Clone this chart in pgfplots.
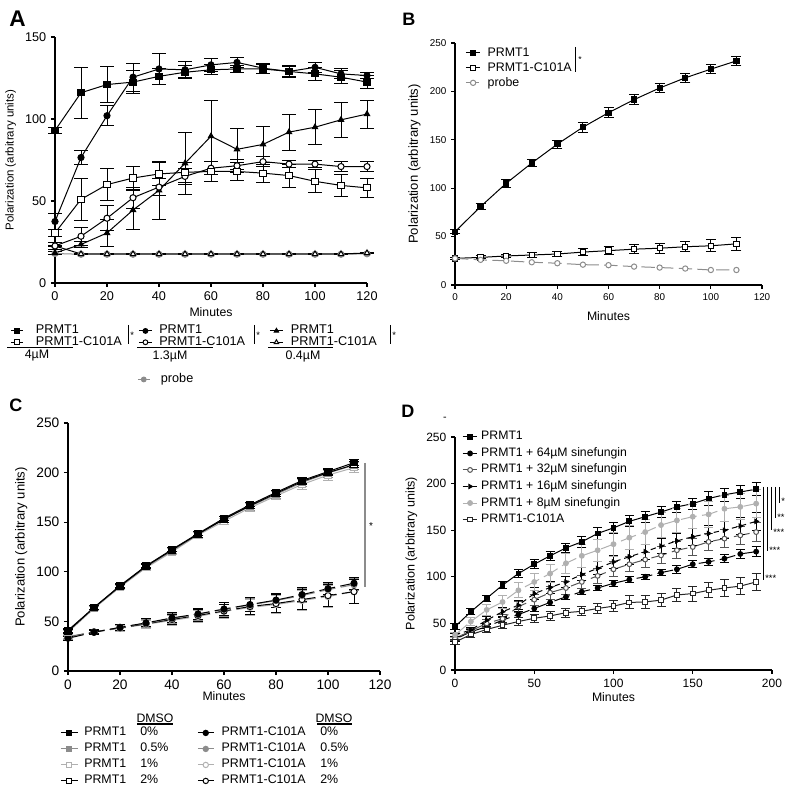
\documentclass[border=0pt]{standalone}
\usepackage{fontspec}
\setmainfont{Liberation Sans}
\usepackage{pgfplots}
\pgfplotsset{compat=1.18}
\definecolor{gA}{HTML}{8C8C8C}
\definecolor{gB}{HTML}{B0B0B0}
\definecolor{gC}{HTML}{555555}
\newcommand{\fs}[1]{\fontsize{#1}{#1}\selectfont}
\pgfplotsset{
  legw/.initial=9pt,
  limg/.style={legend image code/.code={\draw[mark repeat=2,mark phase=2,##1] plot coordinates {(0pt,0pt) (0.5*\pgfkeysvalueof{/pgfplots/legw},0pt) (\pgfkeysvalueof{/pgfplots/legw},0pt)};}},
  panel/.style={
    scale only axis, axis lines=left, axis line style={-, line width=0.8pt},
    tick align=outside, major tick length=3pt,
    tick style={line width=0.8pt, black},
    /pgf/number format/assume math mode=true,
    every axis plot/.append style={line width=0.75pt},
    limg, legend cell align=left, clip=false,
    xlabel={Minutes}, ylabel={Polarization (arbitrary units)},
  },
  eb/.style={error bars/.cd, y dir=both, y explicit,
    error bar style={line width=0.75pt, solid},
    error mark options={rotate=90, mark size=#1, line width=0.75pt, solid}},
  eb/.default=3pt,
  legendonly/.style={hide axis, scale only axis, width=1pt, height=1pt,
    xmin=0, xmax=1, ymin=0, ymax=1, anchor=north west, limg,
    legend cell align=left},
  fsq/.style={mark=square*, mark options={solid, fill=#1, draw=#1}},
  fsq/.default=black,
  osq/.style={mark=square*, mark options={solid, fill=white, draw=#1}},
  osq/.default=black,
  fci/.style={mark=*, mark options={solid, fill=#1, draw=#1}},
  fci/.default=black,
  oci/.style={mark=*, mark options={solid, fill=white, draw=#1}},
  oci/.default=black,
  ftr/.style={mark=triangle*, mark options={solid, fill=#1, draw=#1}},
  ftr/.default=black,
  otr/.style={mark=triangle*, mark options={solid, fill=white, draw=#1}},
  otr/.default=black,
  arr/.style={mark=triangle*, mark options={solid, rotate=-90, fill=#1, draw=#1}},
  arr/.default=black,
}
\begin{document}
\begin{tikzpicture}
\useasboundingbox (0pt,0pt) rectangle (600pt,597.75pt);
% ================= Panel A =================
\begin{axis}[panel, at={(41.25pt,385.5pt)}, anchor=origin,
  width=234pt, height=184.5pt, xmin=0, xmax=120, ymin=0, ymax=150,
  xtick={0,20,...,120}, ytick={0,50,100,150},
  tick label style={font=\fs{9.5}},
  xlabel style={font=\fs{9.2}, yshift=2pt}, ylabel style={font=\fs{8.6}},
  mark size=2.3pt]
\addplot[gA, fci=gA] coordinates {(0,18) (10,17.5) (20,17.5) (30,17.5) (40,17.5) (50,17.5) (60,17.5) (70,17.5) (80,17.5) (90,17.5) (100,17.5) (110,17.5) (120,17.8)};
\addplot[black, otr, eb=5pt] coordinates {(0,22.6) +- (0,0.5) (10,17.7) +- (0,0.5) (20,17.7) +- (0,0.5) (30,17.7) +- (0,0.5) (40,17.7) +- (0,0.5) (50,17.7) +- (0,0.5) (60,17.7) +- (0,0.5) (70,17.7) +- (0,0.5) (80,17.7) +- (0,0.5) (90,17.7) +- (0,0.5) (100,17.7) +- (0,0.5) (110,17.7) +- (0,0.5) (120,18.3) +- (0,0.5)};
\addplot[black, ftr, eb=5pt] coordinates {(0,18.3) +- (0,1) (10,23.5) +- (0,2) (20,30.5) +- (0,8) (30,44.5) +- (0,12) (40,56.5) +- (0,17.5) (50,73) +- (0,19) (60,89.5) +- (0,21.5) (70,81.5) +- (0,12.5) (80,84.5) +- (0,11) (90,92) +- (0,11) (100,95) +- (0,10.5) (110,99.5) +- (0,10.5) (120,103) +- (0,8.5)};
\addplot[black, oci, eb=5pt] coordinates {(0,22.6) +- (0,2) (10,28.5) +- (0,5.5) (20,39.5) +- (0,7.5) (30,52) +- (0,6.5) (40,58.5) +- (0,5) (50,65) +- (0,5) (60,70) +- (0,4) (70,71.5) +- (0,4) (80,74) +- (0,3) (90,72.5) +- (0,2) (100,72.5) +- (0,2) (110,71) +- (0,3) (120,71) +- (0,3)};
\addplot[black, osq, eb=5pt] coordinates {(0,30.5) +- (0,2) (10,51) +- (0,13) (20,60) +- (0,10) (30,64) +- (0,7) (40,66.5) +- (0,7) (50,67.5) +- (0,6) (60,68) +- (0,6) (70,68) +- (0,5.5) (80,67) +- (0,5.5) (90,65.5) +- (0,7) (100,62) +- (0,7) (110,59.5) +- (0,6.5) (120,58) +- (0,6)};
\addplot[black, fci, eb=5pt] coordinates {(0,37.5) +- (0,5) (10,76.5) +- (0,4) (20,102) +- (0,6) (30,125.5) +- (0,8.5) (40,130.5) +- (0,9.5) (50,130) +- (0,5) (60,133) +- (0,4) (70,134.5) +- (0,3) (80,131) +- (0,3) (90,129) +- (0,3.5) (100,131.5) +- (0,3) (110,127.5) +- (0,3) (120,126.5) +- (0,2)};
\addplot[black, fsq, eb=5pt] coordinates {(0,93) +- (0,2) (10,116) +- (0,15.5) (20,121) +- (0,11) (30,122.5) +- (0,7) (40,126) +- (0,5) (50,128.5) +- (0,4) (60,130) +- (0,3) (70,130.5) +- (0,2) (80,130.5) +- (0,3) (90,129) +- (0,3) (100,127.5) +- (0,4) (110,125.5) +- (0,4) (120,122.5) +- (0,4)};
\end{axis}
% legends A
\begin{axis}[legendonly, at={(7.5pt,354pt)}, legw=9pt, mark size=1.8pt,
  legend style={at={(0,1)}, anchor=north west, draw=none, fill=none, inner sep=0pt,
  font=\fs{9.5}, column sep=0pt, row sep=0pt, nodes={inner sep=0.5pt, text height=6pt, text depth=1.5pt}}]
\addlegendimage{black, line width=0.75pt, fsq}\addlegendentry{\hspace*{9pt}PRMT1}
\addlegendimage{black, line width=0.75pt, osq}\addlegendentry{\hspace*{9pt}PRMT1-C101A}
\end{axis}
\begin{axis}[legendonly, at={(103.5pt,354pt)}, legw=10pt, mark size=1.8pt,
  legend style={at={(0,1)}, anchor=north west, draw=none, fill=none, inner sep=0pt,
  font=\fs{9.5}, column sep=0pt, row sep=0pt, nodes={inner sep=0.5pt, text height=6pt, text depth=1.5pt}}]
\addlegendimage{black, line width=0.75pt, fci}\addlegendentry{\hspace*{4.5pt}PRMT1}
\addlegendimage{black, line width=0.75pt, oci}\addlegendentry{\hspace*{4.5pt}PRMT1-C101A}
\end{axis}
\begin{axis}[legendonly, at={(201.75pt,354pt)}, legw=10pt, mark size=1.9pt,
  legend style={at={(0,1)}, anchor=north west, draw=none, fill=none, inner sep=0pt,
  font=\fs{9.5}, column sep=0pt, row sep=0pt, nodes={inner sep=0.5pt, text height=6pt, text depth=1.5pt}}]
\addlegendimage{black, line width=0.75pt, ftr}\addlegendentry{\hspace*{5pt}PRMT1}
\addlegendimage{black, line width=0.75pt, otr}\addlegendentry{\hspace*{5pt}PRMT1-C101A}
\end{axis}
\begin{axis}[legendonly, at={(102.75pt,317.6pt)}, legw=9pt, mark size=1.8pt,
  legend style={at={(0,1)}, anchor=north west, draw=none, fill=none, inner sep=0pt,
  font=\fs{9.5}, column sep=0pt, row sep=0pt, nodes={inner sep=0.5pt, text height=6pt, text depth=1.5pt}}]
\addlegendimage{gA, line width=0.75pt, fci=gA}\addlegendentry{\hspace*{7.5pt}probe}
\end{axis}
% ================= Panel B =================
\begin{axis}[panel, at={(341.25pt,384pt)}, anchor=origin,
  width=230.25pt, height=181.5pt, xmin=0, xmax=120, ymin=0, ymax=250,
  xtick={0,20,...,120}, ytick={0,50,...,250},
  tick label style={font=\fs{7.4}},
  xlabel style={font=\fs{9.2}, yshift=-1pt}, ylabel style={font=\fs{9.8}},
  mark size=2pt, legw=11pt,
  legend style={at={(0.0326,0.988)}, anchor=north west, draw=none, fill=none, inner sep=0pt,
  font=\fs{9.3}, column sep=4.5pt, row sep=1.25pt, nodes={inner sep=0.5pt, text height=7pt, text depth=2pt}}]
\addplot[black, fsq, eb=3.75pt] coordinates {(0,55) +- (0,2) (10,81) +- (0,3) (20,105) +- (0,4) (30,126) +- (0,4) (40,145.5) +- (0,4) (50,163) +- (0,5) (60,178) +- (0,5) (70,191.5) +- (0,5) (80,203.5) +- (0,5) (90,214) +- (0,5) (100,223) +- (0,5) (110,231.5) +- (0,5)};
\addlegendentry{PRMT1}
\addplot[black, osq, eb=3.75pt] coordinates {(0,27.5) +- (0,1) (10,28.5) +- (0,1.5) (20,30) +- (0,2) (30,31) +- (0,3) (40,32) +- (0,3) (50,34) +- (0,4) (60,35.5) +- (0,4) (70,37) +- (0,4.5) (80,38) +- (0,5) (90,39.5) +- (0,5) (100,40.5) +- (0,6) (110,42.5) +- (0,7)};
\addlegendentry{PRMT1-C101A}
\addplot[gA, oci=gA, dash pattern=on 10pt off 4pt] coordinates {(0,27.5) (10,26) (20,25) (30,23.5) (40,22.5) (50,21) (60,20.5) (70,19) (80,18) (90,17) (100,15.5) (110,15.5)};
\addlegendentry{probe}
\end{axis}
% ================= Panel C =================
\begin{axis}[panel, at={(51pt,94.5pt)}, anchor=origin,
  width=234pt, height=186pt, xmin=0, xmax=120, ymin=0, ymax=250,
  xtick={0,20,...,120}, ytick={0,50,...,250},
  tick label style={font=\fs{10.3}},
  xlabel style={font=\fs{9.2}, yshift=5pt}, ylabel style={font=\fs{9.8}},
  mark size=2.3pt]
\addplot[gB, oci=gB, dash pattern=on 12pt off 4pt, eb=3.75pt] coordinates {(0,35) +- (0,2) (10,39) +- (0,2) (20,43) +- (0,3) (30,47) +- (0,4) (40,51) +- (0,5) (50,55) +- (0,6) (60,60) +- (0,7) (70,64) +- (0,8) (80,67) +- (0,9) (90,71) +- (0,10) (100,75) +- (0,11) (110,80) +- (0,12)};
\addplot[black, oci, dash pattern=on 12pt off 4pt, eb=3.75pt] coordinates {(0,34) +- (0,2) (10,39.5) +- (0,2) (20,43.5) +- (0,3) (30,47.5) +- (0,4) (40,52) +- (0,5) (50,56) +- (0,6) (60,60.5) +- (0,7) (70,65) +- (0,8) (80,68) +- (0,9) (90,72) +- (0,10) (100,76) +- (0,11) (110,80) +- (0,12)};
\addplot[gA, fci=gA, dash pattern=on 12pt off 4pt, eb=3.75pt] coordinates {(0,34) +- (0,2) (10,39) +- (0,2) (20,44) +- (0,3) (30,48) +- (0,4) (40,53) +- (0,5) (50,57) +- (0,6) (60,62) +- (0,7) (70,66.5) +- (0,7) (80,71) +- (0,7) (90,76) +- (0,7) (100,82) +- (0,6) (110,87) +- (0,6)};
\addplot[black, fci, dash pattern=on 12pt off 4pt, eb=3.75pt] coordinates {(0,33) +- (0,2) (10,39) +- (0,2) (20,44) +- (0,3) (30,48.5) +- (0,4) (40,53.5) +- (0,5) (50,57.5) +- (0,6) (60,62.5) +- (0,7) (70,67) +- (0,7) (80,71.5) +- (0,7) (90,77) +- (0,7) (100,83) +- (0,6) (110,88.5) +- (0,6)};
\addplot[gB, osq=gB, eb=3.75pt] coordinates {(0,39) +- (0,2) (10,63) +- (0,2) (20,84.5) +- (0,2) (30,104) +- (0,3) (40,120) +- (0,3) (50,137) +- (0,3) (60,151) +- (0,3) (70,164.5) +- (0,4) (80,176.5) +- (0,4) (90,188) +- (0,5) (100,197.5) +- (0,5) (110,205) +- (0,5)};
\addplot[gA, fsq=gA, eb=3.75pt] coordinates {(0,40) +- (0,2) (10,63.5) +- (0,2) (20,85) +- (0,2) (30,105) +- (0,3) (40,121) +- (0,3) (50,137.5) +- (0,3) (60,153) +- (0,3) (70,166) +- (0,4) (80,178) +- (0,4) (90,190) +- (0,4) (100,199.5) +- (0,4) (110,207.5) +- (0,4)};
\addplot[black, osq, eb=3.75pt] coordinates {(0,40) +- (0,2) (10,64) +- (0,2) (20,85.5) +- (0,2) (30,105.5) +- (0,2) (40,122) +- (0,2) (50,138) +- (0,3) (60,153) +- (0,3) (70,166.5) +- (0,3) (80,179) +- (0,3) (90,191) +- (0,3) (100,200) +- (0,3) (110,208) +- (0,3)};
\addplot[black, fsq, eb=3.75pt] coordinates {(0,41) +- (0,2) (10,64) +- (0,2) (20,86) +- (0,2) (30,106) +- (0,2) (40,122.5) +- (0,2) (50,138.5) +- (0,2) (60,154) +- (0,2) (70,167.5) +- (0,2) (80,180) +- (0,2) (90,192) +- (0,3) (100,201) +- (0,3) (110,210) +- (0,3)};
\end{axis}
% legends C
\begin{axis}[legendonly, at={(45pt,52.5pt)}, legw=12.75pt, mark size=2pt,
  legend style={at={(0,1)}, anchor=north west, draw=none, fill=none, inner sep=0pt,
  font=\fs{9.3}, column sep=0pt, row sep=3.5pt, nodes={inner sep=0.5pt, text height=6pt, text depth=1.5pt}}]
\addlegendimage{black, line width=0.75pt, fsq}\addlegendentry{\hspace*{4pt}\makebox[42pt][l]{PRMT1}0\%}
\addlegendimage{gA, line width=0.75pt, fsq=gA}\addlegendentry{\hspace*{4pt}\makebox[42pt][l]{PRMT1}0.5\%}
\addlegendimage{gB, line width=0.75pt, osq=gB}\addlegendentry{\hspace*{4pt}\makebox[42pt][l]{PRMT1}1\%}
\addlegendimage{black, line width=0.75pt, osq}\addlegendentry{\hspace*{4pt}\makebox[42pt][l]{PRMT1}2\%}
\end{axis}
\begin{axis}[legendonly, at={(147.75pt,52.5pt)}, legw=12pt, mark size=2pt,
  legend style={at={(0,1)}, anchor=north west, draw=none, fill=none, inner sep=0pt,
  font=\fs{9.3}, column sep=0pt, row sep=3.5pt, nodes={inner sep=0.5pt, text height=6pt, text depth=1.5pt}}]
\addlegendimage{black, line width=0.75pt, fci}\addlegendentry{\hspace*{5pt}\makebox[74pt][l]{PRMT1-C101A}0\%}
\addlegendimage{gA, line width=0.75pt, fci=gA}\addlegendentry{\hspace*{5pt}\makebox[74pt][l]{PRMT1-C101A}0.5\%}
\addlegendimage{gB, line width=0.75pt, oci=gB}\addlegendentry{\hspace*{5pt}\makebox[74pt][l]{PRMT1-C101A}1\%}
\addlegendimage{black, line width=0.75pt, oci}\addlegendentry{\hspace*{5pt}\makebox[74pt][l]{PRMT1-C101A}2\%}
\end{axis}
% ================= Panel D =================
\begin{axis}[panel, at={(341.25pt,95.25pt)}, anchor=origin,
  width=237.75pt, height=174.75pt, xmin=0, xmax=200, ymin=0, ymax=250,
  xtick={0,50,...,200}, ytick={0,50,...,250},
  tick label style={font=\fs{9}},
  xlabel style={font=\fs{9.2}, yshift=3pt}, ylabel style={font=\fs{9.4}},
  mark size=1.8pt, legw=11pt,
  legend style={at={(0.022,1.026)}, anchor=north west, draw=none, fill=none, inner sep=0pt,
  font=\fs{9.2}, column sep=2pt, row sep=3.9pt, nodes={inner sep=0.5pt, text height=6pt, text depth=1.5pt}}]
\addplot[black, fsq, eb=3.4pt] coordinates {(0,46.5) +- (0,3) (10,62.5) +- (0,3) (20,77) +- (0,3) (30,91) +- (0,4) (40,103.5) +- (0,4) (50,113.5) +- (0,5) (60,122.5) +- (0,5) (70,131) +- (0,5) (80,137.5) +- (0,6) (90,146.5) +- (0,6) (100,152.5) +- (0,6) (110,159.5) +- (0,6) (120,164.5) +- (0,6) (130,169.5) +- (0,6) (140,175) +- (0,6) (150,178.5) +- (0,6) (160,184) +- (0,7) (170,188) +- (0,7) (180,191) +- (0,7) (190,194) +- (0,7)};
\addlegendentry{PRMT1}
\addplot[black, fci, dash pattern=on 12pt off 4pt, eb=3.4pt] coordinates {(0,33) +- (0,2) (10,41) +- (0,2) (20,46.5) +- (0,2) (30,53.5) +- (0,3) (40,59.5) +- (0,3) (50,66) +- (0,3) (60,72.5) +- (0,3) (70,78.5) +- (0,3) (80,84) +- (0,3) (90,88) +- (0,3) (100,93) +- (0,3) (110,97) +- (0,3) (120,100) +- (0,3) (130,104.5) +- (0,3) (140,108) +- (0,4) (150,113.5) +- (0,4) (160,116) +- (0,4) (170,119.5) +- (0,4) (180,124.5) +- (0,5) (190,127) +- (0,5)};
\addlegendentry{PRMT1 + 64µM sinefungin}
\addplot[gC, oci=gC, dash pattern=on 12pt off 4pt, eb=3.4pt] coordinates {(0,34) +- (0,2) (10,42) +- (0,3) (20,50) +- (0,4) (30,55) +- (0,5) (40,68) +- (0,6) (50,75.5) +- (0,6) (60,83) +- (0,7) (70,88) +- (0,7) (80,94.5) +- (0,7) (90,101) +- (0,8) (100,108) +- (0,8) (110,113.5) +- (0,8) (120,118.5) +- (0,8) (130,123) +- (0,9) (140,128.5) +- (0,9) (150,132) +- (0,9) (160,137.5) +- (0,9) (170,141) +- (0,10) (180,144.5) +- (0,10) (190,148) +- (0,10)};
\addlegendentry{PRMT1 + 32µM sinefungin}
\addplot[black, arr, dash pattern=on 4pt off 3pt, eb=3.4pt] coordinates {(0,37.5) +- (0,2) (10,43) +- (0,3) (20,53.5) +- (0,4) (30,62.5) +- (0,5) (40,69.5) +- (0,5) (50,82) +- (0,6) (60,88.5) +- (0,6) (70,94.5) +- (0,6) (80,102.5) +- (0,7) (90,109) +- (0,7) (100,116) +- (0,7) (110,121.5) +- (0,8) (120,127) +- (0,8) (130,133) +- (0,8) (140,138.5) +- (0,8) (150,143) +- (0,9) (160,146.5) +- (0,9) (170,150) +- (0,9) (180,154.5) +- (0,9) (190,159.5) +- (0,10)};
\addlegendentry{PRMT1 + 16µM sinefungin}
\addplot[gB, fci=gB, dash pattern=on 12pt off 4pt, eb=3.4pt] coordinates {(0,37.5) +- (0,3) (10,52) +- (0,4) (20,64.5) +- (0,6) (30,73) +- (0,7) (40,85.5) +- (0,8) (50,94.5) +- (0,9) (60,103.5) +- (0,10) (70,114.5) +- (0,11) (80,122.5) +- (0,12) (90,128.5) +- (0,12) (100,135) +- (0,13) (110,142) +- (0,13) (120,148) +- (0,13) (130,155.5) +- (0,13) (140,160.5) +- (0,13) (150,164.5) +- (0,13) (160,167) +- (0,14) (170,173) +- (0,14) (180,175) +- (0,14) (190,178.5) +- (0,15)};
\addlegendentry{PRMT1 + 8µM sinefungin}
\addplot[black!85, osq=black!85, eb=3.4pt] coordinates {(0,30) +- (0,3) (10,38) +- (0,3) (20,43.5) +- (0,3) (30,48) +- (0,3) (40,52) +- (0,4) (50,55.5) +- (0,4) (60,58) +- (0,5) (70,61.5) +- (0,5) (80,63) +- (0,5) (90,66) +- (0,5) (100,68.5) +- (0,6) (110,72.5) +- (0,7) (120,73) +- (0,7) (130,75) +- (0,7) (140,80.5) +- (0,7) (150,82) +- (0,8) (160,85.5) +- (0,8) (170,88) +- (0,9) (180,90) +- (0,9) (190,94.5) +- (0,9)};
\addlegendentry{PRMT1-C101A}
\end{axis}
% ================= annotations (image pixel coordinates) =================
\begin{scope}[x=0.75pt, y=-0.75pt, yshift=597.75pt]
\node[anchor=base west, inner sep=0, font=\bfseries\fs{17}] at (9,27) {A};
\node[anchor=base west, inner sep=0, font=\bfseries\fs{13.5}] at (402,26) {B};
\node[anchor=base west, inner sep=0, font=\bfseries\fs{13.5}] at (9,412) {C};
\node[anchor=base west, inner sep=0, font=\bfseries\fs{13.5}] at (401,418) {D};
\node[inner sep=0, font=\fs{8}] at (445,419) {-};
% A legend decorations
\draw[line width=0.75pt] (7,348) -- (73,348);
\draw[line width=0.75pt] (137,348) -- (213,348);
\draw[line width=0.75pt] (268,348) -- (333,348);
\node[font=\fs{9.3}, inner sep=0] at (37,356) {4µM};
\node[font=\fs{9.3}, inner sep=0] at (170,356) {1.3µM};
\node[font=\fs{9.3}, inner sep=0] at (303,356) {0.4µM};
\draw[line width=0.75pt] (128,325) -- (128,344);
\draw[line width=0.75pt] (254,325) -- (254,344);
\draw[line width=0.75pt] (390,325) -- (390,344);
\node[font=\fs{7}, inner sep=0, anchor=west] at (130,335) {*};
\node[font=\fs{7}, inner sep=0, anchor=west] at (256,335) {*};
\node[font=\fs{7}, inner sep=0, anchor=west] at (392,335) {*};
% B
\draw[line width=0.75pt] (575,47) -- (575,72);
\node[font=\fs{6.5}, inner sep=0, anchor=west] at (578,60) {*};
% C
\draw[gA, line width=1.1pt] (365,463) -- (365,587);
\node[font=\fs{7.5}, inner sep=0] at (371,526) {*};
\node[font=\fs{9.2}, inner sep=0] at (155,718) {DMSO};
\node[font=\fs{9.2}, inner sep=0] at (334,718) {DMSO};
\draw[line width=1.1pt] (137,724) -- (173,724);
\draw[line width=1.1pt] (317,724) -- (352,724);
% D
\draw[line width=0.6pt] (763,487) -- (763,580);
\draw[line width=0.6pt] (767,487) -- (767,551);
\draw[line width=0.6pt] (771,487) -- (771,530);
\draw[line width=0.6pt] (775,487) -- (775,518);
\draw[line width=0.6pt] (779,487) -- (779,503);
\node[font=\fs{7}, inner sep=0, anchor=west] at (781,501) {*};
\node[font=\fs{7}, inner sep=0, anchor=west] at (777,517) {**};
\node[font=\fs{7}, inner sep=0, anchor=west] at (773,532) {***};
\node[font=\fs{7}, inner sep=0, anchor=west] at (769,550) {***};
\node[font=\fs{7}, inner sep=0, anchor=west] at (765,578) {***};
\end{scope}
\end{tikzpicture}
\end{document}
